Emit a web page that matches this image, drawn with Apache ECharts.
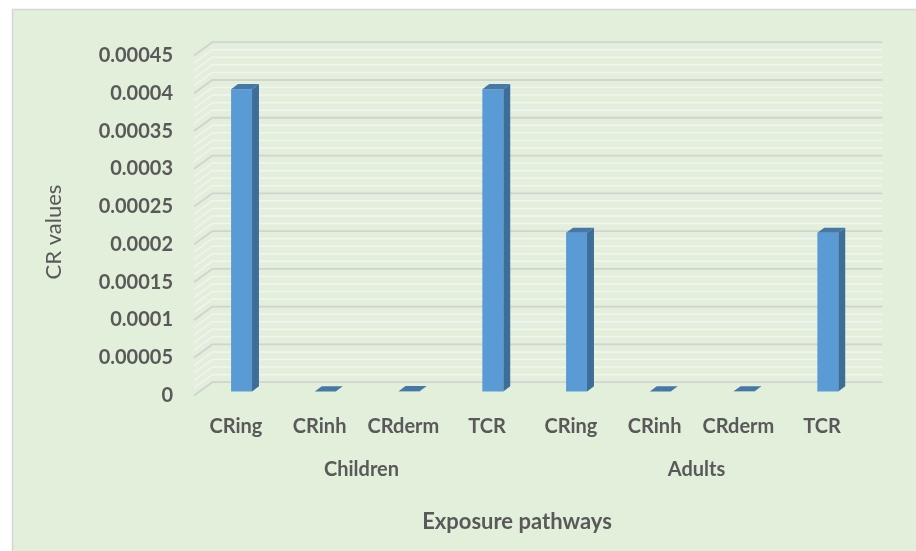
<!DOCTYPE html>
<html>
<head>
<meta charset="utf-8">
<script src="https://cdn.jsdelivr.net/npm/echarts@6/dist/echarts.min.js"></script>
<style>
  html, body { margin: 0; padding: 0; background: #ffffff; }
  #chart { width: 916px; height: 551px; }
</style>
</head>
<body>
<div id="chart"></div>
<script>
// Cancer risk (CR) by exposure pathway for the two age groups
const pathways = ['CRing', 'CRinh', 'CRderm', 'TCR'];
const groups = ['Children', 'Adults'];
const childrenCR = [0.0004, 0.000000002, 0.0000003, 0.0004];
const adultsCR = [0.00021, 0.000000001, 0.0000002, 0.00021];

// Value axis range and gridline spacing
const yMax = 0.00045;
const yInterval = 0.00005;
const yMinorStep = 0.00001;

const categories = pathways.concat(pathways);
const values = childrenCR.concat(adultsCR);

// Pseudo-3D depth of the plot box (back wall offset from the front plane)
const DEPTH_X = 18.3;
const DEPTH_Y = -13.3;
const BAR_FRONT = 0.31;   // bar front face, fraction of depth
const BAR_BACK = 0.69;    // bar back face, fraction of depth
const BAR_WIDTH = 0.25;   // fraction of category band

const TEXT = '#595959';
const FONT = 'Lato, "Open Sans", sans-serif';

// Wall gridlines: side wall diagonal plus back wall line for every minor step
const wallLines = [];
const steps = Math.round(yMax / yMinorStep);
for (let k = 0; k <= steps; k++) {
  const v = +(k * yMinorStep).toFixed(6);
  wallLines.push([0, v, k % Math.round(yInterval / yMinorStep) === 0 ? 1 : 0]);
}

function renderWall(params, api) {
  const cs = params.coordSys;
  const y = api.coord([0, api.value(1)])[1];
  const major = api.value(2) === 1;
  return {
    type: 'polyline',
    z2: major ? 2 : 1,
    shape: {
      points: [
        [cs.x, y],
        [cs.x + DEPTH_X, y + DEPTH_Y],
        [cs.x + cs.width + DEPTH_X, y + DEPTH_Y]
      ]
    },
    style: {
      fill: null,
      stroke: major ? '#d2d2d2' : '#f3f3f3',
      lineWidth: major ? 1.8 : 1.5
    }
  };
}

function renderBar(params, api) {
  const idx = api.value(0);
  const top = api.coord([idx, api.value(1)]);
  const base = api.coord([idx, 0]);
  const band = api.size([1, 0])[0];
  const w = band * BAR_WIDTH;
  const fx = DEPTH_X * BAR_FRONT, fy = DEPTH_Y * BAR_FRONT;
  const bx = DEPTH_X * BAR_BACK, by = DEPTH_Y * BAR_BACK;
  const xL = top[0] - w / 2, xR = top[0] + w / 2;
  const yT = top[1], yB = base[1];
  return {
    type: 'group',
    children: [
      {
        type: 'polygon',
        shape: { points: [[xR + fx, yT + fy], [xR + bx, yT + by], [xR + bx, yB + by], [xR + fx, yB + fy]] },
        style: { fill: '#3d6d99' }
      },
      {
        type: 'rect',
        shape: { x: xL + fx, y: yT + fy, width: w, height: Math.max(0, yB - yT) },
        style: { fill: '#5b9bd5' }
      },
      {
        type: 'polygon',
        shape: { points: [[xL + fx, yT + fy], [xR + fx, yT + fy], [xR + bx, yT + by], [xL + bx, yT + by]] },
        style: { fill: '#4777a6' }
      }
    ]
  };
}

const chart = echarts.init(document.getElementById('chart'), null, { renderer: 'canvas' });

chart.setOption({
  animation: false,
  backgroundColor: '#ffffff',
  graphic: [
    {
      type: 'rect',
      z: -10,
      shape: { x: 12.5, y: 9.5, width: 920, height: 560 },
      style: { fill: '#e2efda', stroke: '#d6d6d6', lineWidth: 1.5 }
    },
    {
      type: 'text',
      x: 54, y: 232,
      rotation: Math.PI / 2,
      style: {
        text: 'CR values',
        fill: TEXT,
        font: '22px ' + FONT,
        textAlign: 'center',
        textVerticalAlign: 'middle'
      }
    },
    {
      type: 'text',
      x: 517, y: 522,
      style: {
        text: 'Exposure pathways',
        fill: TEXT,
        font: 'bold 22px ' + FONT,
        textAlign: 'center',
        textVerticalAlign: 'middle'
      }
    }
  ],
  grid: { left: 194, right: 52, top: 55.5, bottom: 155.5, containLabel: false },
  xAxis: [
    {
      type: 'category',
      data: categories,
      axisLine: { show: false },
      axisTick: { show: false },
      splitLine: { show: false },
      axisLabel: {
        color: TEXT,
        fontFamily: FONT,
        fontWeight: 'bold',
        fontSize: 20,
        margin: 21,
        interval: 0
      }
    },
    {
      type: 'category',
      data: groups,
      position: 'bottom',
      offset: 56,
      axisLine: { show: false },
      axisTick: { show: false },
      splitLine: { show: false },
      axisLabel: {
        color: TEXT,
        fontFamily: FONT,
        fontWeight: 'bold',
        fontSize: 20,
        margin: 8
      }
    }
  ],
  yAxis: {
    type: 'value',
    min: 0,
    max: yMax,
    interval: yInterval,
    axisLine: { show: false },
    axisTick: { show: false },
    splitLine: { show: false },
    axisLabel: {
      color: TEXT,
      fontFamily: FONT,
      fontWeight: 'bold',
      fontSize: 20,
      margin: 21,
      formatter: v => (v === 0 ? '0' : String(parseFloat(v.toFixed(5))))
    }
  },
  series: [
    {
      type: 'custom',
      name: 'walls',
      xAxisIndex: 0,
      yAxisIndex: 0,
      z: 1,
      silent: true,
      renderItem: renderWall,
      data: wallLines
    },
    {
      type: 'custom',
      name: 'CR',
      xAxisIndex: 0,
      yAxisIndex: 0,
      z: 2,
      renderItem: renderBar,
      encode: { x: 0, y: 1 },
      data: values.map((v, i) => [i, v])
    }
  ]
});
</script>
</body>
</html>
